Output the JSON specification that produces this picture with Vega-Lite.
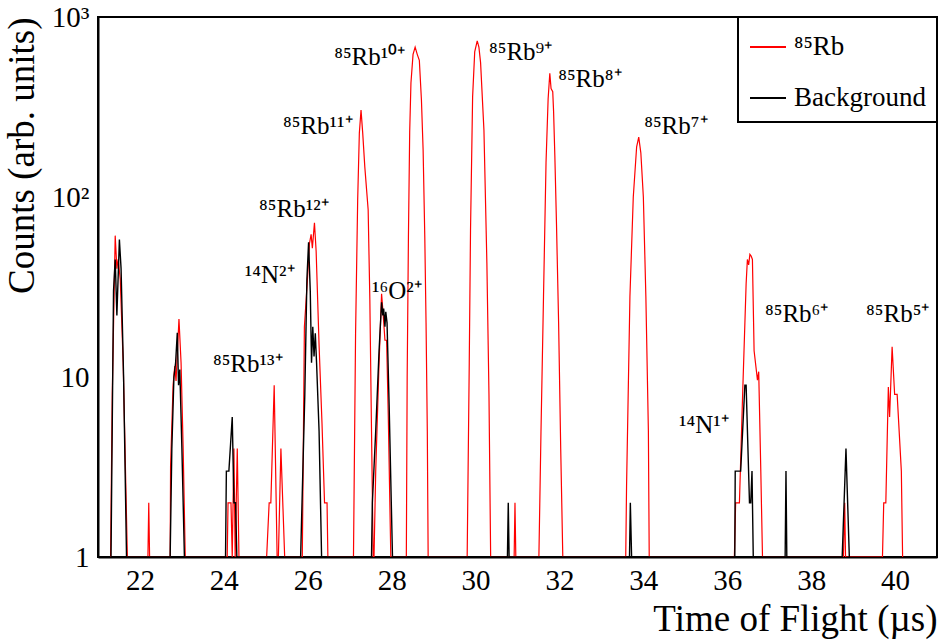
{
  "$schema": "https://vega.github.io/schema/vega-lite/v6.json",
  "width": 839,
  "height": 540,
  "autosize": {"type": "none"},
  "padding": {"left": 98, "top": 17, "right": 4, "bottom": 86},
  "datasets": {
    "spec": [
      {"s": "⁸⁵Rb", "t": 21.30, "c": 1}, {"s": "⁸⁵Rb", "t": 21.34, "c": 8}, {"s": "⁸⁵Rb", "t": 21.41, "c": 61}, {"s": "⁸⁵Rb", "t": 21.45, "c": 40},
      {"s": "⁸⁵Rb", "t": 21.48, "c": 45}, {"s": "⁸⁵Rb", "t": 21.53, "c": 35}, {"s": "⁸⁵Rb", "t": 21.60, "c": 12}, {"s": "⁸⁵Rb", "t": 21.70, "c": 1},
      {"s": "⁸⁵Rb", "t": 22.19, "c": 1}, {"s": "⁸⁵Rb", "t": 22.21, "c": 2}, {"s": "⁸⁵Rb", "t": 22.23, "c": 1},
      {"s": "⁸⁵Rb", "t": 22.72, "c": 1}, {"s": "⁸⁵Rb", "t": 22.73, "c": 3.2}, {"s": "⁸⁵Rb", "t": 22.79, "c": 9}, {"s": "⁸⁵Rb", "t": 22.83, "c": 11.5},
      {"s": "⁸⁵Rb", "t": 22.86, "c": 9.5}, {"s": "⁸⁵Rb", "t": 22.93, "c": 21}, {"s": "⁸⁵Rb", "t": 22.98, "c": 12}, {"s": "⁸⁵Rb", "t": 23.03, "c": 4},
      {"s": "⁸⁵Rb", "t": 23.08, "c": 1},
      {"s": "⁸⁵Rb", "t": 24.08, "c": 1}, {"s": "⁸⁵Rb", "t": 24.10, "c": 2}, {"s": "⁸⁵Rb", "t": 24.17, "c": 2}, {"s": "⁸⁵Rb", "t": 24.20, "c": 1},
      {"s": "⁸⁵Rb", "t": 24.24, "c": 4}, {"s": "⁸⁵Rb", "t": 24.27, "c": 1}, {"s": "⁸⁵Rb", "t": 24.32, "c": 4}, {"s": "⁸⁵Rb", "t": 24.36, "c": 1},
      {"s": "⁸⁵Rb", "t": 25.02, "c": 1}, {"s": "⁸⁵Rb", "t": 25.08, "c": 2}, {"s": "⁸⁵Rb", "t": 25.12, "c": 2}, {"s": "⁸⁵Rb", "t": 25.20, "c": 9},
      {"s": "⁸⁵Rb", "t": 25.27, "c": 1}, {"s": "⁸⁵Rb", "t": 25.30, "c": 1}, {"s": "⁸⁵Rb", "t": 25.36, "c": 4}, {"s": "⁸⁵Rb", "t": 25.45, "c": 1},
      {"s": "⁸⁵Rb", "t": 25.87, "c": 1}, {"s": "⁸⁵Rb", "t": 25.92, "c": 19}, {"s": "⁸⁵Rb", "t": 25.99, "c": 34}, {"s": "⁸⁵Rb", "t": 26.04, "c": 55},
      {"s": "⁸⁵Rb", "t": 26.08, "c": 62}, {"s": "⁸⁵Rb", "t": 26.11, "c": 52}, {"s": "⁸⁵Rb", "t": 26.16, "c": 72}, {"s": "⁸⁵Rb", "t": 26.20, "c": 50},
      {"s": "⁸⁵Rb", "t": 26.27, "c": 15}, {"s": "⁸⁵Rb", "t": 26.34, "c": 5.5}, {"s": "⁸⁵Rb", "t": 26.40, "c": 2}, {"s": "⁸⁵Rb", "t": 26.46, "c": 2},
      {"s": "⁸⁵Rb", "t": 26.48, "c": 1},
      {"s": "⁸⁵Rb", "t": 27.09, "c": 1}, {"s": "⁸⁵Rb", "t": 27.14, "c": 17.5}, {"s": "⁸⁵Rb", "t": 27.19, "c": 96}, {"s": "⁸⁵Rb", "t": 27.23, "c": 227},
      {"s": "⁸⁵Rb", "t": 27.27, "c": 304}, {"s": "⁸⁵Rb", "t": 27.31, "c": 227}, {"s": "⁸⁵Rb", "t": 27.36, "c": 147}, {"s": "⁸⁵Rb", "t": 27.44, "c": 85},
      {"s": "⁸⁵Rb", "t": 27.48, "c": 27}, {"s": "⁸⁵Rb", "t": 27.52, "c": 5}, {"s": "⁸⁵Rb", "t": 27.56, "c": 1},
      {"s": "⁸⁵Rb", "t": 27.58, "c": 1}, {"s": "⁸⁵Rb", "t": 27.62, "c": 3}, {"s": "⁸⁵Rb", "t": 27.70, "c": 12}, {"s": "⁸⁵Rb", "t": 27.76, "c": 29},
      {"s": "⁸⁵Rb", "t": 27.80, "c": 22}, {"s": "⁸⁵Rb", "t": 27.84, "c": 16}, {"s": "⁸⁵Rb", "t": 27.88, "c": 16}, {"s": "⁸⁵Rb", "t": 27.92, "c": 6},
      {"s": "⁸⁵Rb", "t": 27.98, "c": 1},
      {"s": "⁸⁵Rb", "t": 28.35, "c": 1}, {"s": "⁸⁵Rb", "t": 28.37, "c": 10}, {"s": "⁸⁵Rb", "t": 28.40, "c": 60}, {"s": "⁸⁵Rb", "t": 28.43, "c": 230},
      {"s": "⁸⁵Rb", "t": 28.46, "c": 430}, {"s": "⁸⁵Rb", "t": 28.51, "c": 620}, {"s": "⁸⁵Rb", "t": 28.56, "c": 680}, {"s": "⁸⁵Rb", "t": 28.61, "c": 620},
      {"s": "⁸⁵Rb", "t": 28.66, "c": 575}, {"s": "⁸⁵Rb", "t": 28.71, "c": 346}, {"s": "⁸⁵Rb", "t": 28.75, "c": 183}, {"s": "⁸⁵Rb", "t": 28.79, "c": 60},
      {"s": "⁸⁵Rb", "t": 28.82, "c": 20}, {"s": "⁸⁵Rb", "t": 28.85, "c": 5}, {"s": "⁸⁵Rb", "t": 28.87, "c": 1},
      {"s": "⁸⁵Rb", "t": 29.80, "c": 1}, {"s": "⁸⁵Rb", "t": 29.85, "c": 12}, {"s": "⁸⁵Rb", "t": 29.88, "c": 65}, {"s": "⁸⁵Rb", "t": 29.93, "c": 360},
      {"s": "⁸⁵Rb", "t": 29.98, "c": 640}, {"s": "⁸⁵Rb", "t": 30.04, "c": 736}, {"s": "⁸⁵Rb", "t": 30.08, "c": 680}, {"s": "⁸⁵Rb", "t": 30.12, "c": 558},
      {"s": "⁸⁵Rb", "t": 30.20, "c": 235}, {"s": "⁸⁵Rb", "t": 30.27, "c": 43}, {"s": "⁸⁵Rb", "t": 30.32, "c": 8}, {"s": "⁸⁵Rb", "t": 30.36, "c": 1},
      {"s": "⁸⁵Rb", "t": 30.92, "c": 1}, {"s": "⁸⁵Rb", "t": 30.94, "c": 2}, {"s": "⁸⁵Rb", "t": 30.96, "c": 1},
      {"s": "⁸⁵Rb", "t": 31.51, "c": 1}, {"s": "⁸⁵Rb", "t": 31.56, "c": 5}, {"s": "⁸⁵Rb", "t": 31.62, "c": 28}, {"s": "⁸⁵Rb", "t": 31.68, "c": 155},
      {"s": "⁸⁵Rb", "t": 31.73, "c": 350}, {"s": "⁸⁵Rb", "t": 31.77, "c": 487}, {"s": "⁸⁵Rb", "t": 31.80, "c": 400}, {"s": "⁸⁵Rb", "t": 31.84, "c": 385},
      {"s": "⁸⁵Rb", "t": 31.86, "c": 300}, {"s": "⁸⁵Rb", "t": 31.89, "c": 170}, {"s": "⁸⁵Rb", "t": 31.93, "c": 70}, {"s": "⁸⁵Rb", "t": 31.98, "c": 20},
      {"s": "⁸⁵Rb", "t": 32.03, "c": 4}, {"s": "⁸⁵Rb", "t": 32.08, "c": 1},
      {"s": "⁸⁵Rb", "t": 33.58, "c": 1}, {"s": "⁸⁵Rb", "t": 33.60, "c": 2.5}, {"s": "⁸⁵Rb", "t": 33.68, "c": 28}, {"s": "⁸⁵Rb", "t": 33.76, "c": 100},
      {"s": "⁸⁵Rb", "t": 33.84, "c": 190}, {"s": "⁸⁵Rb", "t": 33.89, "c": 215}, {"s": "⁸⁵Rb", "t": 33.94, "c": 176}, {"s": "⁸⁵Rb", "t": 34.00, "c": 100},
      {"s": "⁸⁵Rb", "t": 34.06, "c": 28}, {"s": "⁸⁵Rb", "t": 34.12, "c": 5}, {"s": "⁸⁵Rb", "t": 34.14, "c": 1},
      {"s": "⁸⁵Rb", "t": 36.17, "c": 1}, {"s": "⁸⁵Rb", "t": 36.20, "c": 2}, {"s": "⁸⁵Rb", "t": 36.29, "c": 2}, {"s": "⁸⁵Rb", "t": 36.37, "c": 8.5},
      {"s": "⁸⁵Rb", "t": 36.45, "c": 33}, {"s": "⁸⁵Rb", "t": 36.48, "c": 45}, {"s": "⁸⁵Rb", "t": 36.51, "c": 42}, {"s": "⁸⁵Rb", "t": 36.54, "c": 48},
      {"s": "⁸⁵Rb", "t": 36.57, "c": 47}, {"s": "⁸⁵Rb", "t": 36.60, "c": 45}, {"s": "⁸⁵Rb", "t": 36.64, "c": 14}, {"s": "⁸⁵Rb", "t": 36.72, "c": 9.6},
      {"s": "⁸⁵Rb", "t": 36.75, "c": 10.7}, {"s": "⁸⁵Rb", "t": 36.80, "c": 3}, {"s": "⁸⁵Rb", "t": 36.84, "c": 1},
      {"s": "⁸⁵Rb", "t": 38.77, "c": 1}, {"s": "⁸⁵Rb", "t": 38.80, "c": 2}, {"s": "⁸⁵Rb", "t": 38.82, "c": 1},
      {"s": "⁸⁵Rb", "t": 39.70, "c": 1}, {"s": "⁸⁵Rb", "t": 39.73, "c": 2}, {"s": "⁸⁵Rb", "t": 39.78, "c": 2}, {"s": "⁸⁵Rb", "t": 39.84, "c": 8.8},
      {"s": "⁸⁵Rb", "t": 39.87, "c": 6}, {"s": "⁸⁵Rb", "t": 39.93, "c": 14.7}, {"s": "⁸⁵Rb", "t": 39.99, "c": 8}, {"s": "⁸⁵Rb", "t": 40.05, "c": 8},
      {"s": "⁸⁵Rb", "t": 40.15, "c": 3}, {"s": "⁸⁵Rb", "t": 40.18, "c": 1},

      {"s": "Background", "t": 21.31, "c": 1}, {"s": "Background", "t": 21.37, "c": 30}, {"s": "Background", "t": 21.41, "c": 45}, {"s": "Background", "t": 21.45, "c": 22},
      {"s": "Background", "t": 21.51, "c": 58}, {"s": "Background", "t": 21.55, "c": 40}, {"s": "Background", "t": 21.61, "c": 10}, {"s": "Background", "t": 21.68, "c": 1},
      {"s": "Background", "t": 22.72, "c": 1}, {"s": "Background", "t": 22.76, "c": 4}, {"s": "Background", "t": 22.81, "c": 10}, {"s": "Background", "t": 22.85, "c": 12},
      {"s": "Background", "t": 22.89, "c": 17.6}, {"s": "Background", "t": 22.92, "c": 9}, {"s": "Background", "t": 22.95, "c": 11}, {"s": "Background", "t": 23.00, "c": 4},
      {"s": "Background", "t": 23.06, "c": 1},
      {"s": "Background", "t": 24.04, "c": 1}, {"s": "Background", "t": 24.06, "c": 3}, {"s": "Background", "t": 24.12, "c": 3}, {"s": "Background", "t": 24.20, "c": 6},
      {"s": "Background", "t": 24.24, "c": 2}, {"s": "Background", "t": 24.28, "c": 2}, {"s": "Background", "t": 24.31, "c": 1},
      {"s": "Background", "t": 25.83, "c": 1}, {"s": "Background", "t": 25.93, "c": 8}, {"s": "Background", "t": 25.98, "c": 35}, {"s": "Background", "t": 26.02, "c": 56},
      {"s": "Background", "t": 26.06, "c": 30}, {"s": "Background", "t": 26.09, "c": 12}, {"s": "Background", "t": 26.12, "c": 19}, {"s": "Background", "t": 26.15, "c": 13},
      {"s": "Background", "t": 26.18, "c": 17.5}, {"s": "Background", "t": 26.21, "c": 12}, {"s": "Background", "t": 26.27, "c": 5}, {"s": "Background", "t": 26.33, "c": 1},
      {"s": "Background", "t": 27.52, "c": 1}, {"s": "Background", "t": 27.54, "c": 2}, {"s": "Background", "t": 27.62, "c": 5}, {"s": "Background", "t": 27.70, "c": 14},
      {"s": "Background", "t": 27.76, "c": 26}, {"s": "Background", "t": 27.79, "c": 22}, {"s": "Background", "t": 27.81, "c": 24}, {"s": "Background", "t": 27.84, "c": 19},
      {"s": "Background", "t": 27.86, "c": 23}, {"s": "Background", "t": 27.89, "c": 20}, {"s": "Background", "t": 27.94, "c": 7}, {"s": "Background", "t": 28.02, "c": 1},
      {"s": "Background", "t": 30.76, "c": 1}, {"s": "Background", "t": 30.78, "c": 2}, {"s": "Background", "t": 30.80, "c": 1},
      {"s": "Background", "t": 33.67, "c": 1}, {"s": "Background", "t": 33.69, "c": 2}, {"s": "Background", "t": 33.72, "c": 1},
      {"s": "Background", "t": 36.18, "c": 1}, {"s": "Background", "t": 36.19, "c": 3}, {"s": "Background", "t": 36.32, "c": 3}, {"s": "Background", "t": 36.42, "c": 9},
      {"s": "Background", "t": 36.45, "c": 9}, {"s": "Background", "t": 36.53, "c": 2}, {"s": "Background", "t": 36.56, "c": 2}, {"s": "Background", "t": 36.59, "c": 3},
      {"s": "Background", "t": 36.62, "c": 1},
      {"s": "Background", "t": 37.38, "c": 1}, {"s": "Background", "t": 37.40, "c": 3}, {"s": "Background", "t": 37.42, "c": 1},
      {"s": "Background", "t": 38.74, "c": 1}, {"s": "Background", "t": 38.83, "c": 4}, {"s": "Background", "t": 38.91, "c": 1}
    ],
    "xticks": [
      {"k": "major", "t": 22}, {"k": "major", "t": 24}, {"k": "major", "t": 26}, {"k": "major", "t": 28}, {"k": "major", "t": 30},
      {"k": "major", "t": 32}, {"k": "major", "t": 34}, {"k": "major", "t": 36}, {"k": "major", "t": 38}, {"k": "major", "t": 40},
      {"k": "minor", "t": 21.5}, {"k": "minor", "t": 22.5}, {"k": "minor", "t": 23}, {"k": "minor", "t": 23.5}, {"k": "minor", "t": 24.5},
      {"k": "minor", "t": 25}, {"k": "minor", "t": 25.5}, {"k": "minor", "t": 26.5}, {"k": "minor", "t": 27}, {"k": "minor", "t": 27.5},
      {"k": "minor", "t": 28.5}, {"k": "minor", "t": 29}, {"k": "minor", "t": 29.5}, {"k": "minor", "t": 30.5}, {"k": "minor", "t": 31},
      {"k": "minor", "t": 31.5}, {"k": "minor", "t": 32.5}, {"k": "minor", "t": 33}, {"k": "minor", "t": 33.5}, {"k": "minor", "t": 34.5},
      {"k": "minor", "t": 35}, {"k": "minor", "t": 35.5}, {"k": "minor", "t": 36.5}, {"k": "minor", "t": 37}, {"k": "minor", "t": 37.5},
      {"k": "minor", "t": 38.5}, {"k": "minor", "t": 39}, {"k": "minor", "t": 39.5}, {"k": "minor", "t": 40.5}
    ],
    "yticks": [
      {"k": "major", "c": 10}, {"k": "major", "c": 100},
      {"k": "minor", "c": 2}, {"k": "minor", "c": 3}, {"k": "minor", "c": 4}, {"k": "minor", "c": 5}, {"k": "minor", "c": 6}, {"k": "minor", "c": 7}, {"k": "minor", "c": 8}, {"k": "minor", "c": 9},
      {"k": "minor", "c": 20}, {"k": "minor", "c": 30}, {"k": "minor", "c": 40}, {"k": "minor", "c": 50}, {"k": "minor", "c": 60}, {"k": "minor", "c": 70}, {"k": "minor", "c": 80}, {"k": "minor", "c": 90},
      {"k": "minor", "c": 200}, {"k": "minor", "c": 300}, {"k": "minor", "c": 400}, {"k": "minor", "c": 500}, {"k": "minor", "c": 600}, {"k": "minor", "c": 700}, {"k": "minor", "c": 800}, {"k": "minor", "c": 900}
    ],
    "ions": [
      {"t": 26.63, "c": 541, "txt": "⁸⁵Rb¹⁰⁺"},
      {"t": 25.41, "c": 224, "txt": "⁸⁵Rb¹¹⁺"},
      {"t": 24.84, "c": 77.4, "txt": "⁸⁵Rb¹²⁺"},
      {"t": 23.74, "c": 10.7, "txt": "⁸⁵Rb¹³⁺"},
      {"t": 30.32, "c": 577, "txt": "⁸⁵Rb⁹⁺"},
      {"t": 31.97, "c": 408, "txt": "⁸⁵Rb⁸⁺"},
      {"t": 34.02, "c": 224, "txt": "⁸⁵Rb⁷⁺"},
      {"t": 36.90, "c": 20.2, "txt": "⁸⁵Rb⁶⁺"},
      {"t": 39.31, "c": 20.2, "txt": "⁸⁵Rb⁵⁺"},
      {"t": 24.50, "c": 33.3, "txt": "¹⁴N²⁺"},
      {"t": 27.53, "c": 27.1, "txt": "¹⁶O²⁺"},
      {"t": 34.85, "c": 4.89, "txt": "¹⁴N¹⁺"}
    ]
  },
  "encoding": {
    "x": {
      "field": "t", "type": "quantitative",
      "scale": {"domain": [21, 41], "nice": false, "zero": false},
      "axis": {
        "orient": "bottom", "values": [22, 24, 26, 28, 30, 32, 34, 36, 38, 40],
        "ticks": false, "labelPadding": 9, "title": "Time of Flight (µs)",
        "titleAnchor": "end", "titlePadding": 6
      }
    },
    "y": {
      "field": "c", "type": "quantitative",
      "scale": {"type": "log", "domain": [1, 1000], "nice": false},
      "axis": {
        "orient": "left", "values": [1, 10, 100, 1000],
        "ticks": false, "labelPadding": 9, "title": "Counts (arb. units)",
        "titleAnchor": "end", "titlePadding": 10,
        "labelExpr": "datum.value == 1000 ? '10³' : datum.value == 100 ? '10²' : datum.value == 10 ? '10' : '1'"
      }
    }
  },
  "layer": [
    {
      "data": {"name": "xticks"},
      "transform": [{"filter": "datum.k === 'major'"}],
      "mark": {"type": "rule", "color": "#000000", "strokeWidth": 2},
      "encoding": {"y": {"datum": 1, "type": "quantitative"}, "y2": {"datum": 1.243}}
    },
    {
      "data": {"name": "xticks"},
      "transform": [{"filter": "datum.k === 'minor'"}],
      "mark": {"type": "rule", "color": "#000000", "strokeWidth": 2},
      "encoding": {"y": {"datum": 1, "type": "quantitative"}, "y2": {"datum": 1.122}}
    },
    {
      "data": {"name": "xticks"},
      "transform": [{"filter": "datum.k === 'major'"}],
      "mark": {"type": "rule", "color": "#000000", "strokeWidth": 2},
      "encoding": {"y": {"datum": 1000, "type": "quantitative"}, "y2": {"datum": 804.5}}
    },
    {
      "data": {"name": "xticks"},
      "transform": [{"filter": "datum.k === 'minor'"}],
      "mark": {"type": "rule", "color": "#000000", "strokeWidth": 2},
      "encoding": {"y": {"datum": 1000, "type": "quantitative"}, "y2": {"datum": 891}}
    },
    {
      "data": {"name": "yticks"},
      "transform": [{"filter": "datum.k === 'major'"}],
      "mark": {"type": "rule", "color": "#000000", "strokeWidth": 2},
      "encoding": {"x": {"datum": 21, "type": "quantitative"}, "x2": {"datum": 21.62}}
    },
    {
      "data": {"name": "yticks"},
      "transform": [{"filter": "datum.k === 'minor'"}],
      "mark": {"type": "rule", "color": "#000000", "strokeWidth": 2},
      "encoding": {"x": {"datum": 21, "type": "quantitative"}, "x2": {"datum": 21.31}}
    },
    {
      "data": {"name": "yticks"},
      "transform": [{"filter": "datum.k === 'major'"}],
      "mark": {"type": "rule", "color": "#000000", "strokeWidth": 2},
      "encoding": {"x": {"datum": 41, "type": "quantitative"}, "x2": {"datum": 40.38}}
    },
    {
      "data": {"name": "yticks"},
      "transform": [{"filter": "datum.k === 'minor'"}],
      "mark": {"type": "rule", "color": "#000000", "strokeWidth": 2},
      "encoding": {"x": {"datum": 41, "type": "quantitative"}, "x2": {"datum": 40.69}}
    },
    {
      "data": {"name": "spec"},
      "transform": [{"filter": "datum.s === '⁸⁵Rb'"}],
      "mark": {"type": "line", "strokeWidth": 1.2, "clip": true},
      "encoding": {
        "color": {
          "field": "s", "type": "nominal",
          "scale": {"domain": ["⁸⁵Rb", "Background"], "range": ["#ff0000", "#000000"]},
          "legend": {"title": null}
        }
      }
    },
    {
      "data": {"name": "spec"},
      "transform": [{"filter": "datum.s === 'Background'"}],
      "mark": {"type": "line", "strokeWidth": 1.4, "clip": true},
      "encoding": {
        "color": {"field": "s", "type": "nominal", "legend": {"title": null}}
      }
    },
    {
      "data": {"name": "ions"},
      "mark": {"type": "text", "align": "left", "baseline": "alphabetic", "font": "Liberation Serif", "fontSize": 25, "color": "#000000"},
      "encoding": {
        "text": {"field": "txt"}
      }
    }
  ],
  "config": {
    "view": {"stroke": "#000000", "strokeWidth": 2},
    "font": "Liberation Serif",
    "axis": {
      "grid": false,
      "domainColor": "#000000", "domainWidth": 2,
      "labelFont": "Liberation Serif", "labelFontSize": 29, "labelColor": "#000000",
      "titleFont": "Liberation Serif", "titleFontSize": 37, "titleFontWeight": "normal", "titleColor": "#000000"
    },
    "legend": {
      "orient": "top-right", "offset": 0,
      "strokeColor": "#000000", "strokeWidth": 2, "fillColor": "#ffffff",
      "padding": 11, "symbolType": "stroke", "symbolSize": 1296, "symbolStrokeWidth": 2,
      "labelFont": "Liberation Serif", "labelFontSize": 27, "labelColor": "#000000",
      "labelOffset": 7, "rowPadding": 19
    }
  }
}
